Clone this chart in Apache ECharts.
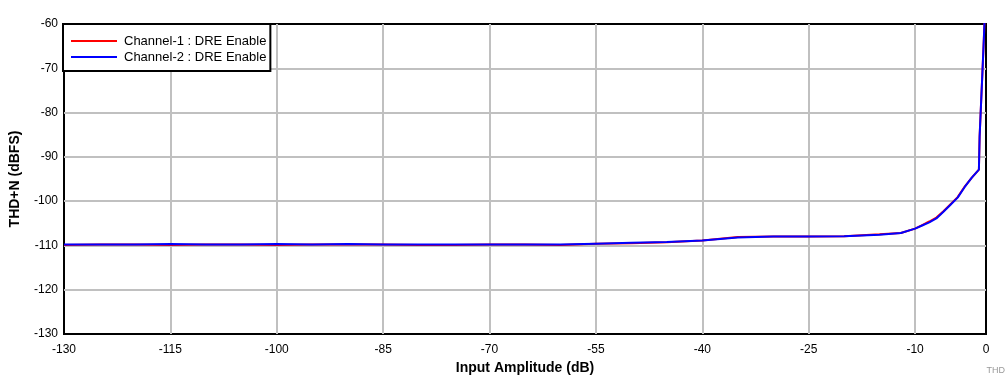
<!DOCTYPE html>
<html>
<head>
<meta charset="utf-8">
<script src="https://cdn.jsdelivr.net/npm/echarts@6/dist/echarts.min.js"></script>
<style>
html,body{margin:0;padding:0;background:#fff;}
#chart{width:1007px;height:387px;}
</style>
</head>
<body>
<div id="chart"></div>
<script>
var xTicks = [-130, -115, -100, -85, -70, -55, -40, -25, -10, 0];
var xValues = [-130, -125, -120, -115, -110, -105, -100, -95, -90, -85, -80, -75, -70, -65, -60, -55, -50, -45, -40, -35, -30, -25, -20, -15, -12, -10, -9, -8, -7, -6, -5, -4, -3, -2, -1, -0.9, -0.7, -0.5, -0.3, -0.15];
var ch1 = [-109.9, -109.8, -109.8, -109.9, -109.8, -109.8, -109.9, -109.8, -109.8, -109.8, -109.9, -109.9, -109.8, -109.8, -109.9, -109.6, -109.5, -109.3, -108.9, -108.1, -108.0, -108.0, -107.9, -107.5, -107.2, -106.2, -105.4, -104.6, -103.7, -102.3, -100.7, -99.1, -96.7, -94.7, -92.9, -85.4, -78.1, -70.8, -63.2, -57.0];
var ch2 = [-109.8, -109.8, -109.8, -109.7, -109.8, -109.8, -109.7, -109.8, -109.7, -109.8, -109.8, -109.8, -109.8, -109.8, -109.8, -109.6, -109.4, -109.2, -108.9, -108.2, -108.0, -108.0, -107.9, -107.6, -107.2, -106.2, -105.5, -104.8, -103.9, -102.4, -100.8, -99.2, -96.8, -94.7, -92.9, -85.4, -78.1, -70.8, -63.2, -57.0];
var seriesNames = ['Channel-1 : DRE Enable', 'Channel-2 : DRE Enable'];

function pairs(xs, ys) { return xs.map(function (x, i) { return [x, ys[i]]; }); }

var chart = echarts.init(document.getElementById('chart'), null, {renderer: 'canvas'});
var font = 'Liberation Sans, Arial, sans-serif';
chart.setOption({
  animation: false,
  backgroundColor: '#fff',
  textStyle: {fontFamily: font},
  grid: {left: 63, right: 21, top: 24, bottom: 53, show: true, borderColor: '#000', borderWidth: 2, backgroundColor: 'transparent'},
  legend: {
    orient: 'vertical', left: 63, top: 24,
    backgroundColor: '#fff', borderColor: '#000', borderWidth: 2, borderRadius: 0,
    padding: [10, 4, 7, 7], itemGap: 2, itemWidth: 46, itemHeight: 14,
    itemStyle: {opacity: 0},
    textStyle: {fontSize: 13, lineHeight: 14, color: '#000', fontFamily: font, padding: [0, 0, 0, 2]},
    data: seriesNames
  },
  xAxis: {
    type: 'value', min: -130, max: 0,
    name: 'Input Amplitude (dB)', nameLocation: 'middle', nameGap: 27,
    nameTextStyle: {fontSize: 14, fontWeight: 'bold', color: '#000', fontFamily: font},
    axisLine: {show: false},
    axisTick: {show: false, customValues: xTicks},
    axisLabel: {customValues: xTicks, fontSize: 12, color: '#000', margin: 10, fontFamily: font},
    splitLine: {show: true, showMinLine: false, showMaxLine: false, lineStyle: {color: '#c0c0c0', width: 2}}
  },
  yAxis: {
    type: 'value', min: -130, max: -60, interval: 10,
    name: 'THD+N (dBFS)', nameLocation: 'middle', nameGap: 42, nameRotate: 90,
    nameTextStyle: {fontSize: 14, fontWeight: 'bold', color: '#000', fontFamily: font},
    axisLine: {show: false},
    axisTick: {show: false},
    axisLabel: {fontSize: 12, color: '#000', margin: 6, fontFamily: font},
    splitLine: {show: true, showMinLine: false, showMaxLine: false, lineStyle: {color: '#c0c0c0', width: 2}}
  },
  graphic: [{
    type: 'text', right: 2, top: 366,
    style: {text: 'THD', fontSize: 9, fill: '#999', fontFamily: font}
  }],
  series: [
    {name: seriesNames[0], type: 'line', data: pairs(xValues, ch1), symbol: 'none', color: '#ff0000', lineStyle: {width: 2, color: '#ff0000'}, clip: true},
    {name: seriesNames[1], type: 'line', data: pairs(xValues, ch2), symbol: 'none', color: '#0000ff', lineStyle: {width: 2, color: '#0000ff'}, clip: true}
  ]
});
</script>
</body>
</html>
